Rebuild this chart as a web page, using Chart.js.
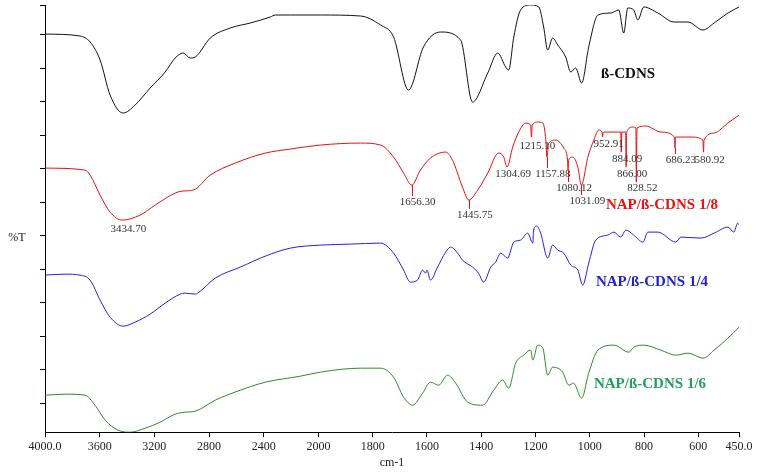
<!DOCTYPE html>
<html><head><meta charset="utf-8">
<script src="https://cdn.jsdelivr.net/npm/chart.js@4/dist/chart.umd.min.js"></script>
<style>html,body{margin:0;padding:0;background:#fff}#wrap{width:758px;height:474px}</style>
</head><body><div id="wrap"><canvas id="c" width="758" height="474"></canvas></div>
<script>
// wavenumbers (cm-1) and transmittance values (arbitrary, stacked)
const cdnsWn = [4000,3744,3670,3597,3524,3429,3341,3231,3121,3048,2989,2938,2901,2791,2645,2498,2352,2315,2205,1993,1845,1771,1723,1668,1613,1550,1476,1432,1376,1339,1310,1299,1280,1255,1218,1188,1170,1155,1137,1118,1089,1070,1052,1030,1004,970,922,893,875,860,838,823,801,749,690,638,583,542,491,450];
const cdnsT  = [398,396,390,372,337,319,327,344,360,374,379,374,375,394,404,409,415,417,417,417,416,407,395,342,385,400,392,330,359,379,365,362,395,422,427,425,405,382,394,387,375,360,364,349,385,417,419,422,399,424,422,412,425,419,410,410,402,409,419,425];

const r18Wn = [4000,3707,3670,3597,3524,3435,3304,3194,3048,2996,2916,2791,2608,2388,2205,1993,1845,1771,1723,1686,1656,1624,1587,1531,1506,1469,1446,1413,1376,1336,1317,1305,1284,1262,1236,1218,1215,1212,1192,1173,1162,1158,1151,1125,1096,1082,1080,1078,1063,1044,1031,1007,985,967,955,953,951,948,911,886,884,882,868,866,864,841,830,828.5,826,793,738,688,686,684,627,583,581,579,542,491,450];
const r18T  = [264,262,257,237,220,212,217,227,239,241,242,257,269,279,283,287,289,287,275,259,247,262,274,280,272,245,232,242,259,279,275,265,285,300,309,307,295,307,310,309,292,275,289,292,284,272,262,272,275,265,247,275,292,302,300,295,299,300,300,300,280,300,300,265,300,305,304,250,304,306,300,295,284,295,295,292,280,292,299,309,317];

const r14Wn = [4000,3853,3744,3670,3597,3524,3429,3341,3231,3121,3011,2974,2901,2864,2755,2571,2388,2205,1993,1882,1771,1723,1686,1661,1635,1616,1605,1600,1587,1561,1531,1513,1487,1469,1432,1410,1391,1365,1347,1328,1303,1280,1255,1229,1210,1207,1195,1181,1155,1137,1118,1096,1070,1044,1026,1004,978,934,911,886,867,838,804,786,749,683,664,590,542,491,469,455,450];
const r14T  = [157,158,157,152,132,115,106,110,118,129,138,139,138,141,154,165,176,184,187,188,189,179,162,150,152,162,159,162,152,165,180,185,179,172,165,159,150,165,170,179,174,190,192,199,189,202,206,199,174,187,182,179,167,162,147,169,192,197,200,195,202,197,190,200,200,190,195,194,199,205,200,209,207];

const r16Wn = [4000,3853,3707,3634,3560,3465,3377,3267,3158,3048,2974,2901,2755,2571,2388,2132,1993,1845,1771,1723,1686,1653,1616,1587,1557,1524,1494,1450,1395,1354,1321,1299,1273,1244,1218,1210,1192,1173,1155,1137,1100,1077,1060,1030,1004,970,911,856,838,801,738,683,638,583,542,491,450];
const r16T  = [37,38,37,27,12,2,0,4,10,18,20,21,32,42,50,56,60,64,64,55,35,27,39,50,47,57,49,30,27,42,52,44,69,77,82,72,87,84,57,65,60,47,49,34,59,82,87,80,85,87,82,77,79,74,82,94,105];

const seriesNames = ['ß-CDNS','NAP/ß-CDNS 1/8','NAP/ß-CDNS 1/4','NAP/ß-CDNS 1/6'];
const tickWn = [4000,3600,3200,2800,2400,2000,1800,1600,1400,1200,1000,800,600,450];
const tickLabels = ['4000.0','3600','3200','2800','2400','2000','1800','1600','1400','1200','1000','800','600','450.0'];
const peakWn = [3434.70,1656.30,1445.75,1304.69,1215.10,1157.88,1080.12,1031.09,952.91,884.09,866.00,828.52,686.23,580.92];
const peakT  = [212,247,232,265,295,275,262,247,295,280,265,250,284,280];
const peakLabels = ['3434.70','1656.30','1445.75','1304.69','1215.10','1157.88','1080.12','1031.09','952.91','884.09','866.00','828.52','686.23','580.92'];
const peakDy = [9,17,15,7,9,17,18,16,7,7,7,6,12,8];

// FTIR axis: scale compressed above 2000 cm-1
function u(wn){ return wn >= 2000 ? (4000-wn)*0.1365 : 273 + (2000-wn)*0.271; }
const pts = (w,t) => w.map((x,i)=>({x:u(x), y:t[i]}));

const colors = ['#111111','#e81010','#2222dd','#2a8a2a'];
const labelColors = ['#111111','#ee1111','#2222cc','#22a05a'];
const labelPos = [[628,74],[662,205],[652,282],[650,384]];

const annot = {
  id:'annot',
  afterDatasetsDraw(ch){
    const c = ch.ctx, xs = ch.scales.x, ys = ch.scales.y;
    c.save();
    c.font = '11px "Liberation Serif"';
    c.fillStyle = '#333'; c.textAlign='center'; c.textBaseline='middle';
    c.strokeStyle = '#e81010'; c.lineWidth = 1;
    peakWn.forEach((w,i)=>{
      const px = xs.getPixelForValue(u(w)), py = ys.getPixelForValue(peakT[i]);
      if (peakDy[i] > 10){ c.beginPath(); c.moveTo(Math.round(px)+0.5, py); c.lineTo(Math.round(px)+0.5, py+peakDy[i]-6); c.stroke(); }
      c.fillText(peakLabels[i], px+6, py+peakDy[i]);
    });
    c.font = 'bold 15px "Liberation Serif"';
    seriesNames.forEach((n,i)=>{ c.fillStyle = labelColors[i]; c.fillText(n, labelPos[i][0], labelPos[i][1]); });
    c.font = '12px "Liberation Serif"'; c.fillStyle='#222';
    c.fillText('%T', 17, 238);
    c.restore();
  }
};

new Chart(document.getElementById('c'), {
  type:'line',
  data:{ datasets:[
    {data:pts(cdnsWn,cdnsT)},{data:pts(r18Wn,r18T)},{data:pts(r14Wn,r14T)},{data:pts(r16Wn,r16T)}
  ].map((d,i)=>Object.assign(d,{label:seriesNames[i],borderColor:colors[i],borderWidth:1,pointRadius:0,cubicInterpolationMode:'monotone',fill:false}))},
  options:{
    responsive:false, animation:false, events:[],
    layout:{padding:{left:0,right:19,top:5,bottom:0}},
    plugins:{legend:{display:false},tooltip:{enabled:false}},
    scales:{
      x:{type:'linear',min:0,max:693,
        afterBuildTicks(s){ s.ticks = tickWn.map(w=>({value:u(w)})); },
        ticks:{autoSkip:false,maxRotation:0,color:'#222',font:{family:'Liberation Serif',size:12},padding:2,
          callback(v,i){ return tickLabels[i]; }},
        grid:{drawOnChartArea:false,drawTicks:true,tickLength:5,color:'#000'},
        border:{color:'#000'},
        title:{display:true,text:'cm-1',color:'#222',font:{family:'Liberation Serif',size:12},padding:{top:0}}
      },
      y:{type:'linear',min:0,max:427,
        afterBuildTicks(s){ const t=[]; for(let k=0;k<12;k++) t.push({value:29+33.5*k}); t.push({value:427}); s.ticks=t; },
        afterFit(s){ s.width = 45; },
        ticks:{display:false},
        grid:{drawOnChartArea:false,drawTicks:true,tickLength:5,color:'#000'},
        border:{color:'#000'}
      }
    }
  },
  plugins:[annot]
});
</script></body></html>
